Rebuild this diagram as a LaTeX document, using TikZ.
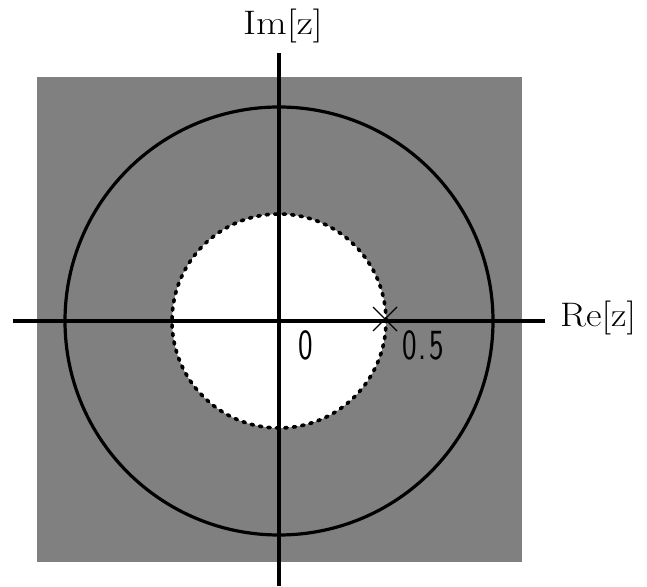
\documentclass[tikz,border=0pt]{standalone}
\usepackage{graphicx}
\usetikzlibrary{calc}
\definecolor{regiongray}{RGB}{128,128,128}
\tikzset{
  axis/.style={line width=3.2pt, black},
  ring/.style={line width=3.2pt, black},
  dotring/.style={line width=3.6pt, black, dash pattern=on 2.5pt off 6pt, line cap=round},
  axlabel/.style={inner sep=0pt, font=\fontsize{34}{34}\selectfont},
  numlabel/.style={inner sep=0pt, font=\fontsize{43}{43}\selectfont\sffamily}
}
\begin{document}
\begin{tikzpicture}[x=1pt,y=1pt]
\useasboundingbox (0,0) rectangle (647,586);
\coordinate (O) at (279,265);
% shaded region
\fill[regiongray] (37,24) rectangle (522,509);
\fill[white] (O) circle (107);
% axes
\coordinate (xl) at (13,265);
\coordinate (xr) at (545,265);
\coordinate (yb) at (279,0);
\coordinate (yt) at (279,533);
\draw[axis] (xl) -- (xr);
\draw[axis] (yb) -- (yt);
% circles
\draw[ring] (O) circle (214);
\draw[dotring] (O) circle (107);
% zero marker
\coordinate (p) at (385,267);
\draw[line width=1.3pt] ($(p)+(-12,-12)$) -- ($(p)+(12,12)$);
\draw[line width=1.3pt] ($(p)+(-12,12)$) -- ($(p)+(12,-12)$);
% labels
\node[axlabel, anchor=base] (im) at (283,551) {\scalebox{1.17}[1]{Im[z]}};
\node[axlabel, anchor=base west] (re) at (560,259) {\scalebox{1.12}[1]{Re[z]}};
\node[numlabel, anchor=base west] (zero) at (298,226) {\scalebox{0.72}[1]{0}};
\node[numlabel, anchor=base west] (half) at (402,226) {\scalebox{0.72}[1]{0\hspace{3pt}.\hspace{3pt}5}};
\end{tikzpicture}
\end{document}
